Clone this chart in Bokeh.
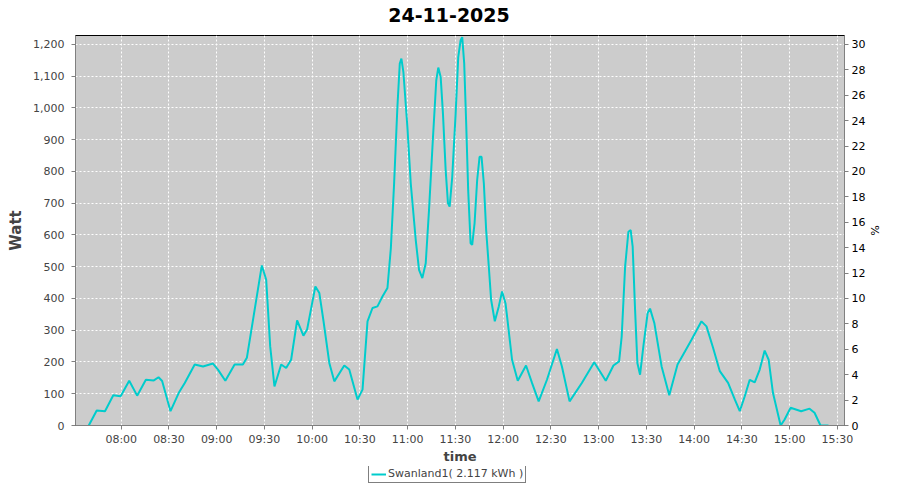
import pandas as pd
from bokeh.plotting import figure
from bokeh.layouts import column
from bokeh.models import (Range1d, LinearAxis, FixedTicker, SingleIntervalTicker,
                          DatetimeTickFormatter, NumeralTickFormatter, Legend,
                          LegendItem, ColumnDataSource, Label)
from bokeh.embed import file_html
from bokeh.resources import INLINE

DATE = "2025-11-24"
TITLE = "24-11-2025"
SERIES_NAME = "Swanland1( 2.117 kWh )"
Y_LABEL = "Watt"
Y2_LABEL = "%"
X_LABEL = "time"

times = [
    "07:39:35", "07:44:35", "07:49:47", "07:55:00", "07:59:37", "08:05:00", "08:10:00",
    "08:15:28", "08:20:29", "08:23:26", "08:25:41", "08:30:57", "08:36:09", "08:39:55",
    "08:46:10", "08:51:22", "08:57:38", "09:00:46", "09:05:25", "09:11:14", "09:16:26",
    "09:18:56", "09:23:08", "09:28:20", "09:31:05", "09:33:36", "09:36:17", "09:40:29",
    "09:43:37", "09:46:45", "09:50:31", "09:54:28", "09:56:47", "10:01:59", "10:04:29",
    "10:06:59", "10:10:45", "10:13:53", "10:20:09", "10:23:17", "10:28:29", "10:31:37",
    "10:34:45", "10:37:53", "10:41:01", "10:44:08", "10:47:17", "10:49:25", "10:51:28",
    "10:53:32", "10:55:02", "10:56:03", "10:57:18", "10:59:49", "11:01:56", "11:05:04",
    "11:07:08", "11:09:12", "11:11:20", "11:13:24", "11:15:55", "11:17:58", "11:19:14",
    "11:20:44", "11:22:10", "11:23:52", "11:25:18", "11:26:22", "11:28:00", "11:30:08",
    "11:31:46", "11:33:16", "11:34:16", "11:35:31", "11:36:46", "11:38:01", "11:39:32",
    "11:40:32", "11:42:02", "11:43:40", "11:45:10", "11:46:25", "11:47:52", "11:49:18",
    "11:50:59", "11:52:26", "11:54:45", "11:57:15", "11:59:19", "12:01:27", "12:02:28",
    "12:05:35", "12:09:10", "12:14:22", "12:18:07", "12:22:19", "12:27:31", "12:33:47",
    "12:36:55", "12:41:44", "12:49:26", "12:57:13", "13:04:29", "13:09:18", "13:12:52",
    "13:14:30", "13:16:38", "13:18:42", "13:20:08", "13:21:23", "13:22:54", "13:24:20",
    "13:26:02", "13:28:06", "13:30:47", "13:32:18", "13:34:59", "13:39:34", "13:44:23",
    "13:49:35", "13:54:13", "13:58:22", "14:04:37", "14:07:46", "14:11:57", "14:16:09",
    "14:21:21", "14:25:33", "14:28:41", "14:31:49", "14:34:57", "14:38:05", "14:41:13",
    "14:44:20", "14:46:51", "14:49:32", "14:54:22", "14:56:52", "15:00:38", "15:07:16",
    "15:12:32", "15:15:40", "15:19:26", "15:24:26",
]
watts = [
    0, 47, 45, 95, 92, 141, 94,
    144, 142, 152, 140, 45, 103, 134,
    192, 186, 195, 176, 141, 192, 192,
    213, 343, 504, 459, 249, 123, 192,
    181, 207, 331, 283, 302, 438, 417,
    333, 197, 139, 189, 176, 82, 113,
    328, 370, 375, 406, 433, 558, 762,
    1003, 1140, 1155, 1113, 940, 762, 584,
    490, 464, 511, 678, 909, 1087, 1127,
    1097, 982, 804, 700, 689, 783, 982,
    1160, 1213, 1223, 1140, 951, 741, 574,
    569, 637, 773, 846, 846, 762, 616,
    500, 396, 328, 375, 422, 385, 343,
    207, 141, 189, 134, 76, 144, 241,
    186, 76, 134, 199, 141, 189, 202,
    281, 500, 610, 615, 563, 364, 197,
    160, 249, 354, 368, 323, 186, 95,
    192, 233, 270, 328, 312, 244, 171,
    134, 82, 45, 92, 144, 136, 176,
    236, 207, 103, 0, 19, 56, 45,
    53, 40, 0, 0,
]
x_tick_labels = ["08:00", "08:30", "09:00", "09:30", "10:00", "10:30", "11:00", "11:30",
                 "12:00", "12:30", "13:00", "13:30", "14:00", "14:30", "15:00", "15:30"]
x_start, x_end = "07:31:15", "15:34:30"
y_max_watt = 1228
watt_per_pct = 40


def ts(s):
    return pd.Timestamp(f"{DATE} {s}")


src = ColumnDataSource(data=dict(t=[ts(s) for s in times], w=watts))

FONT = "DejaVu Sans"
TXT = "#444444"
AX = "#808080"
LINE = "#00cccc"
W, H = 884, 484
TITLE_H, LEG_H = 28, 18
FRAME_TOP, FRAME_BOTTOM = 35, 426
MAIN_H = H - TITLE_H - LEG_H

# ---- title strip ----
tf = figure(width=W, height=TITLE_H, x_range=Range1d(0, 1), y_range=Range1d(0, 1),
            output_backend="svg", toolbar_location=None,
            x_axis_location=None, y_axis_location=None,
            min_border=0, outline_line_color=None,
            background_fill_color="white", border_fill_color="white")
tf.grid.visible = False
tf.add_layout(Label(x=0.4067, y=0.5, text=TITLE, text_align="left",
                    text_baseline="middle", text_font=FONT,
                    text_font_size="19px", text_font_style="bold", text_color="black"))

# ---- main chart ----
p = figure(width=W, height=MAIN_H, x_axis_type="datetime",
           x_range=Range1d(ts(x_start), ts(x_end)),
           y_range=Range1d(0, y_max_watt),
           output_backend="svg", toolbar_location=None,
           min_border_left=75, min_border_right=37,
           min_border_top=FRAME_TOP - TITLE_H,
           min_border_bottom=MAIN_H - (FRAME_BOTTOM - TITLE_H),
           background_fill_color="#cccccc", border_fill_color="white",
           outline_line_color="black", outline_line_width=1)

r = p.line(x="t", y="w", source=src, line_color=LINE, line_width=2)

p.extra_y_ranges = {"pct": Range1d(0, y_max_watt / watt_per_pct)}
right = LinearAxis(y_range_name="pct", axis_label=Y2_LABEL,
                   ticker=SingleIntervalTicker(interval=2))
p.add_layout(right, "right")

p.xaxis.ticker = FixedTicker(ticks=[ts(s).value // 10**6 for s in x_tick_labels], minor_ticks=[])
fmt = "%H:%M"
p.xaxis.formatter = DatetimeTickFormatter(seconds=fmt, minsec=fmt, minutes=fmt,
                                          hourmin=fmt, hours=fmt, days=fmt)
p.xaxis.axis_label = X_LABEL
left = p.yaxis[0]
left.ticker = SingleIntervalTicker(interval=100)
left.formatter = NumeralTickFormatter(format="0,0")
left.axis_label = Y_LABEL

for ax in p.axis:
    ax.major_label_text_font = FONT
    ax.major_label_text_font_size = "11px"
    ax.major_label_text_color = TXT
    ax.axis_label_text_font = FONT
    ax.axis_label_text_font_style = "bold"
    ax.axis_label_text_color = TXT
    ax.axis_line_color = AX
    ax.major_tick_line_color = AX
    ax.major_tick_out = 4
    ax.major_tick_in = 0
    ax.minor_tick_line_color = None
    ax.major_label_standoff = 5

p.xaxis.axis_label_text_font_size = "13px"
p.xaxis.axis_label_standoff = 0
p.xaxis.major_label_standoff = 3

left.axis_label_text_font_size = "15px"
left.major_label_standoff = 7
left.axis_label_standoff = 5

right.major_label_text_color = "black"
right.major_label_standoff = 3
right.axis_label_text_font_size = "11px"
right.axis_label_text_font_style = "normal"
right.axis_label_text_color = "black"
right.axis_label_standoff = 0

for g in (p.xgrid, p.ygrid):
    g.grid_line_color = "white"
    g.grid_line_dash = "2 2"
    g.grid_line_width = 1

# ---- legend strip below the chart ----
lf = figure(width=W, height=LEG_H, x_range=Range1d(0, 1), y_range=Range1d(0, 1),
            output_backend="svg", toolbar_location=None,
            x_axis_location=None, y_axis_location=None,
            min_border=0, outline_line_color=None,
            background_fill_color="white", border_fill_color="white")
lf.grid.visible = False
lr = lf.line(x="t", y="w", source=src, line_color=LINE, line_width=2)
legend = Legend(items=[LegendItem(label=SERIES_NAME, renderers=[lr])],
                location=(293, 1), orientation="horizontal",
                border_line_color="black", border_line_width=1,
                background_fill_color="white", background_fill_alpha=1,
                padding=2, margin=0, spacing=0,
                glyph_width=15, glyph_height=12, label_height=12, label_standoff=2,
                label_text_font=FONT, label_text_font_size="11px", label_text_color=TXT)
lf.add_layout(legend, "center")

layout = column(tf, p, lf, spacing=0)
open("out.html", "w").write(file_html(layout, INLINE))
